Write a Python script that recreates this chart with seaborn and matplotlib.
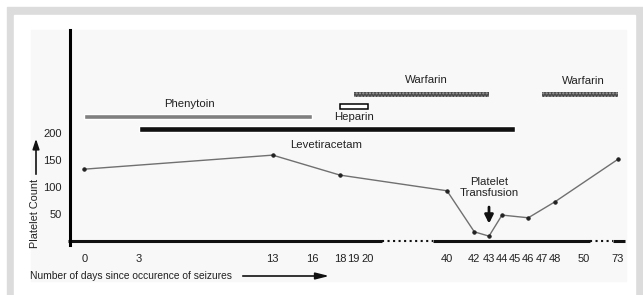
import numpy as np
import matplotlib.pyplot as plt
import matplotlib.patches as mpatches
import seaborn as sns

# ── Data ─────────────────────────────────────────────
days = [0, 13, 18, 40, 42, 43, 44, 46, 48, 73]
platelets = [133, 159, 122, 93, 17, 9, 48, 43, 73, 151]

tick_days = [0, 3, 13, 16, 18, 19, 20, 40, 42, 43, 44, 45, 46, 47, 48, 50, 73]
y_ticks = [50, 100, 150, 200]

# drug courses (start day, end day, level on the count axis)
drugs = ['Phenytoin', 'Levetiracetam', 'Heparin', 'Warfarin', 'Warfarin']
drug_start = [0, 3, 18, 19, 47]
drug_end = [16, 45, 20, 43, 73]
drug_level = [230, 207, 249, 272, 272]

# ── Broken day axis: day -> horizontal pixel position ──
scale_days = [-5, 0, 3, 13, 16, 18, 19, 20, 40, 42, 43, 44, 45, 46, 47, 48, 50, 73, 80]
scale_pos = [-6.7, 84.3, 139, 272.7, 312.3, 340, 353.7, 367.7, 447, 474.3, 489,
             502, 515, 528.3, 542, 555.3, 583.3, 617.7, 715.7]


def fwd(d):
    return np.interp(d, scale_days, scale_pos)


def inv(p):
    return np.interp(p, scale_pos, scale_days)


sns.set_style('white')
plt.rcParams['font.family'] = ['Liberation Sans', 'DejaVu Sans']
FS = 7.8

fig = plt.figure(figsize=(6.43, 2.95), dpi=100)
W, H = 643, 295

# frame: grey border, white panel, faint plot panel
fig.patches.append(mpatches.Rectangle((7 / W, 0), 1 - 7 / W, 1 - 7 / H,
                                      transform=fig.transFigure, color='#dcdcdc', zorder=-10))
fig.patches.append(mpatches.Rectangle((14 / W, 0), 621 / W, 1 - 15 / H,
                                      transform=fig.transFigure, color='white', zorder=-9))
fig.patches.append(mpatches.Rectangle((31 / W, 14 / H), 595 / W, 251 / H,
                                      transform=fig.transFigure, color='#f8f8f8', zorder=-8))

ax = fig.add_axes([70 / W, 54 / H, 555 / W, 211 / H])
ax.patch.set_alpha(0)
ax.set_xscale('function', functions=(fwd, inv))
ax.set_xlim(inv(70), inv(625))
ax.set_ylim(0, 390.7)

# ── Platelet line ─────────────────────────────────────
sns.lineplot(x=days, y=platelets, ax=ax, color='#707070', linewidth=1,
             marker='o', markersize=2.4, markerfacecolor='#222222',
             markeredgecolor='#222222')

# ── Drug bars ─────────────────────────────────────────
styles = {
    'Phenytoin': dict(color='#808080', height=9),
    'Levetiracetam': dict(color='#111111', height=11),
    'Heparin': dict(facecolor='white', edgecolor='black', linewidth=1.1, height=8),
    'Warfarin': dict(facecolor='#4a4a4a', edgecolor='#a0a0a0', hatch='.....',
                     linewidth=0, height=9),
}
for name, s, e, lvl in zip(drugs, drug_start, drug_end, drug_level):
    ax.barh(y=lvl, width=e - s, left=s, **styles[name])

label_x = [6.8, 17, 19, 34.9, 50]
label_y = [254, 178, 230, 298, 296]
for name, lx, ly in zip(drugs, label_x, label_y):
    ax.text(lx, ly, name, ha='center', va='center', fontsize=FS + 0.4, color='#222222')

# platelet transfusion arrow
ax.annotate('', xy=(43, 27), xytext=(43, 68),
            arrowprops=dict(arrowstyle='-|>,head_width=0.25,head_length=0.5',
                            color='#111111', lw=2))
ax.text(43, 80, 'Platelet\nTransfusion', ha='center', va='bottom',
        fontsize=FS + 0.4, linespacing=1.1, color='#222222')

# ── Axes styling ─────────────────────────────────────
for side in ['top', 'right', 'bottom']:
    ax.spines[side].set_visible(False)
ax.spines['left'].set_linewidth(2.2)
ax.spines['left'].set_color('black')
ax.spines['left'].set_bounds(-8, 390.7)

# broken bottom axis
xt = ax.get_xaxis_transform()
segments = [(inv(68), 23.6, '-'), (23.6, 36.5, ':'), (36.5, 54.5, '-'),
            (54.5, 69.9, ':'), (69.9, inv(625), '-')]
for a, b, ls in segments:
    ax.plot([a, b], [0, 0], transform=xt, color='#111111', clip_on=False,
            linestyle=ls, linewidth=2.2 if ls == '-' else 1.5,
            solid_capstyle='butt')

ax.set_xticks(tick_days)
ax.set_xticklabels([str(d) for d in tick_days])
ax.set_yticks(y_ticks)
ax.tick_params(axis='x', length=5, width=1.3, direction='out', pad=4,
               labelsize=FS + 0.2, colors='#111111', labelcolor='#222222')
ax.tick_params(axis='y', length=4, width=1.2, direction='out', pad=2,
               labelsize=FS + 0.2, colors='#111111', labelcolor='#222222')
ax.minorticks_off()
ax.set_xlabel('')
ax.set_ylabel('')

# axis titles with arrows
fig.text(35 / W, (H - 213) / H, 'Platelet Count', rotation=90, ha='center', va='center',
         fontsize=FS, color='#222222')
fig.patches.append(mpatches.FancyArrowPatch((36 / W, (H - 177) / H), (36 / W, (H - 136) / H),
                                            transform=fig.transFigure,
                                            arrowstyle='-|>,head_width=2,head_length=6',
                                            color='#111111', lw=1.2))
fig.text(30 / W, (H - 276) / H, 'Number of days since occurence of seizures',
         ha='left', va='center', fontsize=7.4, color='#222222')
fig.patches.append(mpatches.FancyArrowPatch((240 / W, (H - 276) / H), (332 / W, (H - 276) / H),
                                            transform=fig.transFigure,
                                            arrowstyle='-|>,head_width=2,head_length=8',
                                            color='#111111', lw=1.2))

fig.savefig('out.png', dpi=100)
